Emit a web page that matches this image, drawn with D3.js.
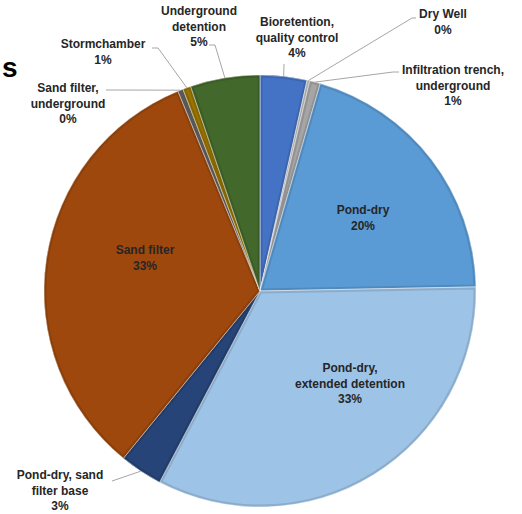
<!DOCTYPE html>
<html>
<head>
<meta charset="utf-8">
<script src="https://cdn.jsdelivr.net/npm/d3@7"></script>
<style>
  body { margin: 0; background: #fff; }
  text { font-family: "Liberation Sans", Arial, sans-serif; font-weight: bold; }
</style>
</head>
<body>
<script>
var width = 522, height = 514;

// data, slices clockwise from 12 o'clock
var names = ["Bioretention, quality control", "Dry Well", "Infiltration trench, underground",
             "Pond-dry", "Pond-dry, extended detention", "Pond-dry, sand filter base",
             "Sand filter", "Sand filter, underground", "Stormchamber", "Underground detention"];
var values = [3.5, 0.2, 0.8, 20.2, 33.0, 3.2, 32.9, 0.4, 0.6, 5.2];
var pctLabels = ["4%", "0%", "1%", "20%", "33%", "3%", "33%", "0%", "1%", "5%"];
var colors = ["#4472C4", "#BFBFBF", "#A5A5A5", "#5B9BD5", "#9DC3E6", "#264478",
              "#9E480E", "#636363", "#997300", "#43682B"];

// label layout: text lines, centre x, first line y, leader elbow (null = inside label)
var labelLayout = [
  {lines: ["Bioretention,", "quality control"], x: 297, y: 22, elbow: [284, 64]},
  {lines: ["Dry Well"], x: 443, y: 14, elbow: [412, 18], start: [416, 18]},
  {lines: ["Infiltration trench,", "underground"], x: 453, y: 70, elbow: [393, 72], start: [399, 72]},
  {lines: ["Pond-dry"], x: 363, y: 210, elbow: null},
  {lines: ["Pond-dry,", "extended detention"], x: 350, y: 368, elbow: null},
  {lines: ["Pond-dry, sand", "filter base"], x: 60, y: 475, elbow: [112, 481], start: [112, 481]},
  {lines: ["Sand filter"], x: 145, y: 250, elbow: null},
  {lines: ["Sand filter,", "underground"], x: 68, y: 88, elbow: [106, 90], start: [106, 90]},
  {lines: ["Stormchamber"], x: 103, y: 44, elbow: [158, 48], start: [152, 48]},
  {lines: ["Underground", "detention"], x: 199, y: 11, elbow: [215, 45], start: [209, 45]}
];

var cx = 260, cy = 291, r = 216;

var svg = d3.select("body").append("svg")
    .attr("width", width)
    .attr("height", height);

// cut off title letter
svg.append("text")
    .attr("x", 2)
    .attr("y", 77)
    .attr("font-size", 28)
    .attr("fill", "#000")
    .text("s");

var pie = d3.pie().sort(null).value(function(d) { return d; });
var arcs = pie(values);
var arc = d3.arc().innerRadius(0).outerRadius(r);
var edge = d3.arc().innerRadius(r).outerRadius(r);

var g = svg.append("g").attr("transform", "translate(" + cx + "," + cy + ")");
var defs = svg.append("defs");

arcs.forEach(function(a, i) {
  defs.append("clipPath").attr("id", "clip" + i)
    .append("path").attr("d", arc(a));
});

var slices = g.selectAll(".slice").data(arcs).enter().append("g").attr("class", "slice");

slices.append("path")
    .attr("d", arc)
    .attr("fill", function(d, i) { return colors[i]; });

// darker inner rim
slices.append("path")
    .attr("d", arc)
    .attr("fill", "none")
    .attr("clip-path", function(d, i) { return "url(#clip" + i + ")"; })
    .attr("stroke", function(d, i) { return d3.color(colors[i]).darker(0.35); })
    .attr("stroke-width", 5);

slices.append("path")
    .attr("d", arc)
    .attr("fill", "none")
    .attr("stroke", "#fff")
    .attr("stroke-opacity", 0.6)
    .attr("stroke-width", 0.8);

// leader lines
arcs.forEach(function(a, i) {
  var L = labelLayout[i];
  if (!L.elbow) return;
  var p = edge.centroid(a);
  var pts = [];
  if (L.start) pts.push(L.start);
  pts.push(L.elbow);
  pts.push([cx + p[0], cy + p[1]]);
  svg.append("path")
      .attr("d", d3.line()(pts))
      .attr("fill", "none")
      .attr("stroke", "#A6A6A6")
      .attr("stroke-width", 1);
});

// labels
var lh = 15.5;
labelLayout.forEach(function(L, i) {
  var t = svg.append("text")
      .attr("text-anchor", "middle")
      .attr("font-size", 12)
      .attr("fill", "#262626");
  L.lines.concat([pctLabels[i]]).forEach(function(s, k) {
    t.append("tspan")
        .attr("x", L.x)
        .attr("y", L.y + k * lh + 4)
        .text(s);
  });
});
</script>
</body>
</html>
